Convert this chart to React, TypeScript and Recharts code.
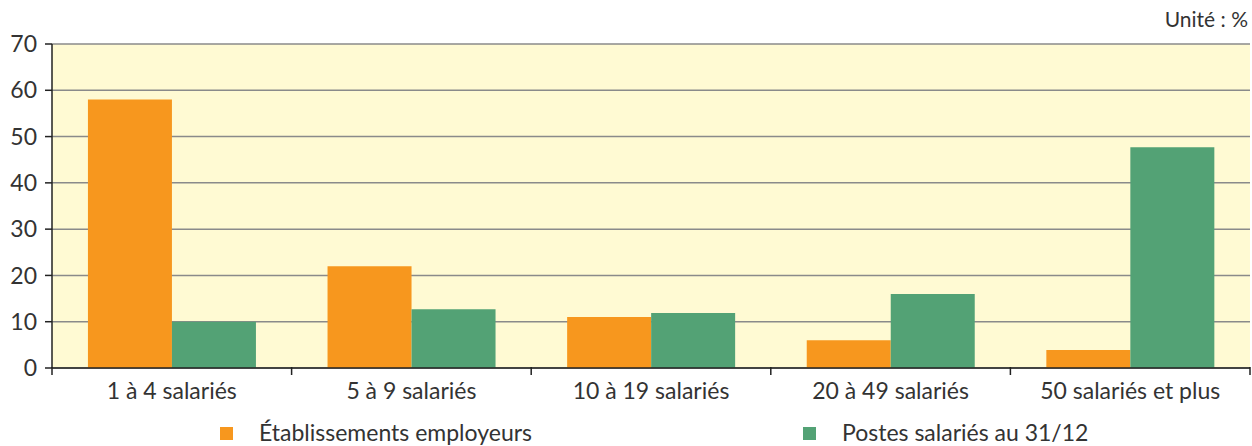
import { BarChart, Bar, XAxis, YAxis, CartesianGrid, Legend } from 'recharts';

const categories = ['1 à 4 salariés', '5 à 9 salariés', '10 à 19 salariés', '20 à 49 salariés', '50 salariés et plus'];
const etablissements = [58, 22, 11, 6, 3.9];
const postes = [10, 12.7, 11.9, 16, 47.7];
const yTicks = [0, 10, 20, 30, 40, 50, 60, 70];

const W = 1252;
const H = 446;
const LEFT = 52;
const RIGHT = 2;
const HALF_BAND = (W - LEFT - RIGHT) / categories.length / 2;

const ORANGE = '#F7971E';
const GREEN = '#53A275';
const FONT = 'Lato, "Open Sans", sans-serif';

const data = categories.map((name, i) => ({
  name,
  etab: etablissements[i],
  postes: postes[i],
}));

// ticks sit between categories, so draw them by hand next to the label
const XTick = (props: any) => {
  const { x, y, payload, index } = props;
  return (
    <g>
      {index === 0 && <line x1={x - HALF_BAND} x2={x - HALF_BAND} y1={y - 9} y2={y - 1} stroke="#222" strokeWidth={1.5} />}
      <line x1={x + HALF_BAND} x2={x + HALF_BAND} y1={y - 9} y2={y - 1} stroke="#222" strokeWidth={1.5} />
      <text x={x} y={y + 23} textAnchor="middle" fontSize={23} fill="#333" fontFamily={FONT}>
        {payload.value}
      </text>
    </g>
  );
};

const renderLegend = () => (
  <div style={{ position: 'relative', height: 38, width: W, fontFamily: FONT, fontSize: 23, color: '#333' }}>
    <span style={{ position: 'absolute', left: 220, top: 19, width: 13, height: 13, background: ORANGE }} />
    <span style={{ position: 'absolute', left: 259, top: 10 }}>Établissements employeurs</span>
    <span style={{ position: 'absolute', left: 803, top: 19, width: 13, height: 13, background: GREEN }} />
    <span style={{ position: 'absolute', left: 842, top: 10 }}>Postes salariés au 31/12</span>
  </div>
);

export default function App() {
  return (
    <div style={{ position: 'absolute', left: 0, top: 0, width: W, height: H, background: '#fff' }}>
      <div
        style={{
          position: 'absolute',
          right: 4,
          top: 6,
          fontFamily: FONT,
          fontSize: 21,
          color: '#333',
        }}
      >
        Unité : %
      </div>
      <BarChart
        width={W}
        height={H}
        data={data}
        margin={{ top: 44, right: RIGHT, left: 0, bottom: 0 }}
        barCategoryGap="15%"
        barGap={0}
      >
        <CartesianGrid vertical={false} stroke="#8a8a8a" strokeWidth={1.5} fill="#FFFAD3" fillOpacity={1} />
        <XAxis
          dataKey="name"
          height={40}
          axisLine={{ stroke: '#222', strokeWidth: 1.5 }}
          tickLine={false}
          tick={<XTick />}
          interval={0}
        />
        <YAxis
          width={LEFT}
          domain={[0, 70]}
          ticks={yTicks}
          axisLine={{ stroke: '#222', strokeWidth: 1.5 }}
          tickLine={{ stroke: '#222', strokeWidth: 1.5 }}
          tickSize={7}
          tickMargin={8}
          tick={{ fontSize: 23, fill: '#333', fontFamily: FONT }}
        />
        <YAxis
          yAxisId="r"
          orientation="right"
          width={0}
          domain={[0, 70]}
          tick={false}
          tickLine={false}
          axisLine={{ stroke: '#8a8a8a', strokeWidth: 1.5 }}
        />
        <Legend verticalAlign="bottom" height={38} content={renderLegend} />
        <Bar dataKey="etab" name="Établissements employeurs" fill={ORANGE} isAnimationActive={false} />
        <Bar dataKey="postes" name="Postes salariés au 31/12" fill={GREEN} isAnimationActive={false} />
      </BarChart>
    </div>
  );
}
